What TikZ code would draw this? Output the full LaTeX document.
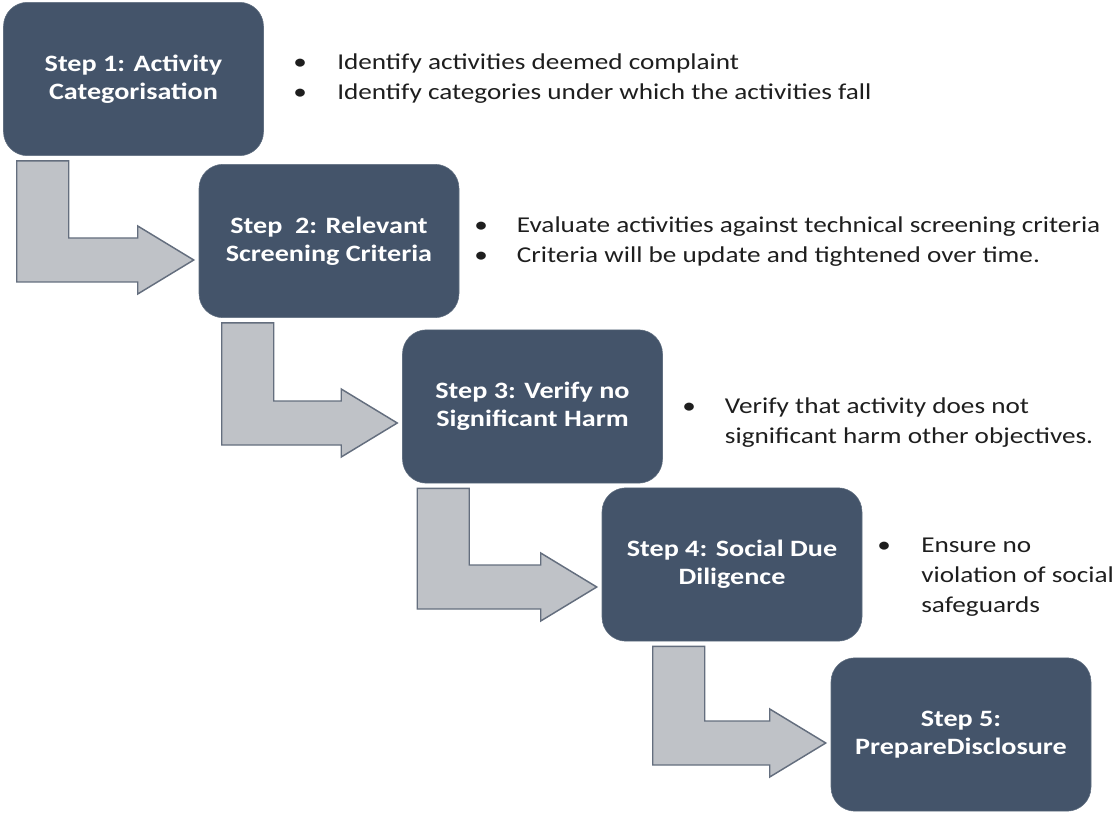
\documentclass[tikz,border=0pt]{standalone}
\usepackage{fontspec}
\setmainfont[FakeStretch=1.2]{Carlito}
\usepackage{xcolor}
\definecolor{StepBlue}{RGB}{68,84,106}
\definecolor{ArrowFill}{RGB}{191,194,199}
\definecolor{ArrowLine}{RGB}{100,110,126}
\definecolor{TextDark}{RGB}{30,30,30}
\usepackage{tikz}
\usetikzlibrary{calc, positioning}
\tikzset{
  % Step box
  stepbox/.style={
    rectangle, rounded corners=18pt,
    fill=StepBlue, draw=StepBlue!85!white, thin,
    minimum width=195pt, minimum height=115pt,
    align=center, text=white,
    font=\bfseries\fontsize{17.6}{21}\selectfont
  },
  % Bullet notes
  notes/.style={
    anchor=base west, inner sep=0pt, text=TextDark,
    font=\fontsize{17}{22.5}\selectfont
  },
  % Bent block arrow
  bentarr/.style={fill=ArrowFill, draw=ArrowLine, line width=1.1pt, line join=miter},
}
% bent arrow: from box, to box, shaft x offset, tip y offset
\newcommand{\steparrow}[4]{%
  \coordinate (#1top) at ($(#1.south west)+(#3,5)$);
  \coordinate (#1tip) at ($(#2.west)+(-5,#4)$);
  \draw[bentarr] (#1top) -- ++(52,0)
    -- ($(#1top |- #1tip)+(52,-22)$) -- ($(#1tip)+(-56,-22)$)
    -- ($(#1tip)+(-56,-34)$) -- (#1tip) -- ($(#1tip)+(-56,34)$)
    -- ($(#1tip)+(-56,22)$) -- ($(#1top |- #1tip)+(0,22)$) -- cycle;
}
\newcommand{\bl}{\textbullet}

\begin{document}
\begin{tikzpicture}[x=0.75pt, y=-0.75pt]
  \useasboundingbox (0,0) rectangle (1115,813);

  %% Steps
  \node[stepbox] (s1) at (133.5,79) {Step 1: Activity\\Categorisation};
  \node[stepbox] (s2) at (329,241) {Step\ \ 2: Relevant\\Screening Criteria};
  \node[stepbox] (s3) at (532.5,406.5) {Step 3: Verify no\\Significant Harm};
  \node[stepbox] (s4) at (732,564.5) {Step 4: Social Due\\Diligence};
  \node[stepbox] (s5) at (961,734.5) {Step 5:\\PrepareDisclosure};

  %% Arrows
  \steparrow{s1}{s2}{13.5}{19}
  \steparrow{s2}{s3}{23}{16.5}
  \steparrow{s3}{s4}{15}{22.5}
  \steparrow{s4}{s5}{51}{8.5}

  %% Notes
  \node[notes] (n1) at (293,70) {\begin{tabular}[t]{@{}p{33pt}@{}l@{}}
    \bl & Identify activities deemed complaint\\
    \bl & Identify categories under which the activities fall
  \end{tabular}};
  \node[notes] (n2) at (474,233) {\begin{tabular}[t]{@{}p{32pt}@{}l@{}}
    \bl & Evaluate activities against technical screening criteria\\
    \bl & Criteria will be update and tightened over time.
  \end{tabular}};
  \node[notes] (n3) at (682,413) {\begin{tabular}[t]{@{}p{32pt}@{}l@{}}
    \bl & Verify that activity does not\\
        & significant harm other objectives.
  \end{tabular}};
  \node[notes] (n4) at (877,552) {\begin{tabular}[t]{@{}p{33pt}@{}l@{}}
    \bl & Ensure no\\
        & violation of social\\
        & safeguards
  \end{tabular}};

\end{tikzpicture}
\end{document}
